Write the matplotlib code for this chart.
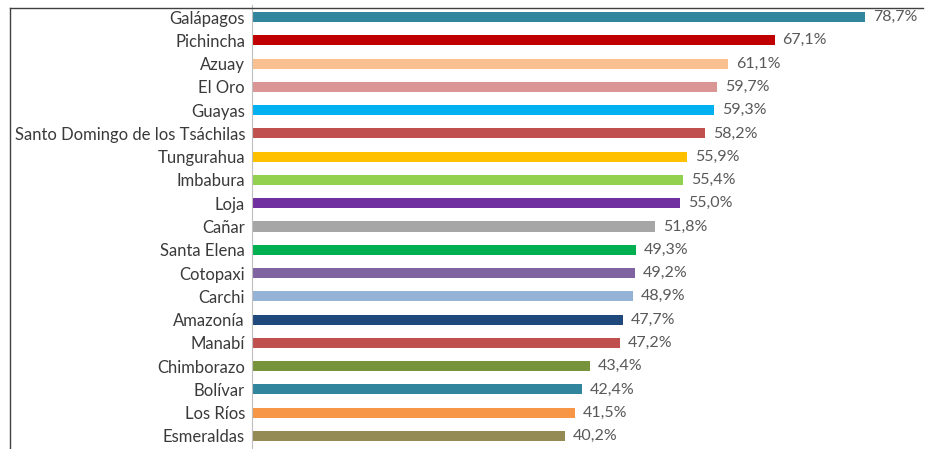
import matplotlib.pyplot as plt

provincias = ['Galápagos', 'Pichincha', 'Azuay', 'El Oro', 'Guayas',
              'Santo Domingo de los Tsáchilas', 'Tungurahua', 'Imbabura', 'Loja',
              'Cañar', 'Santa Elena', 'Cotopaxi', 'Carchi', 'Amazonía', 'Manabí',
              'Chimborazo', 'Bolívar', 'Los Ríos', 'Esmeraldas']
valores = [78.7, 67.1, 61.1, 59.7, 59.3, 58.2, 55.9, 55.4, 55.0, 51.8,
           49.3, 49.2, 48.9, 47.7, 47.2, 43.4, 42.4, 41.5, 40.2]
colores = ['#31859C', '#C00000', '#FAC090', '#D99694', '#00B0F0', '#C0504D',
           '#FFC000', '#92D050', '#7030A0', '#A6A6A6', '#00B050', '#8064A2',
           '#95B3D7', '#1F497D', '#C0504D', '#77933C', '#31859C', '#F79646',
           '#948A54']

plt.rcParams['font.family'] = ['Lato', 'DejaVu Sans']

fig = plt.figure(figsize=(9.26, 4.49), dpi=100)
ax = fig.add_axes([252 / 926, 1 - 447.6 / 449, 662 / 926, (447.6 - 5.4) / 449])

y = list(range(len(provincias)))
ax.barh(y, valores, height=0.43, color=colores)
for yi, v in zip(y, valores):
    ax.text(v + 1.0, yi, f'{v:.1f}%'.replace('.', ','), va='center', ha='left',
            fontsize=11.5, color='#595959')

ax.set_xlim(0, 85)
ax.set_ylim(len(provincias) - 0.5, -0.5)
ax.set_yticks(y)
ax.set_yticklabels(provincias, fontsize=12, color='#3A3A3A')
ax.tick_params(axis='y', length=0, pad=5)
ax.set_xticks([])
for s in ['top', 'right', 'bottom']:
    ax.spines[s].set_visible(False)
ax.spines['left'].set_color('#BFBFBF')

# marco de la imagen (solo arriba e izquierda)
fig.add_artist(plt.Line2D([10 / 926, 10 / 926], [0, 1 - 8 / 449], color='#404040', lw=1))
fig.add_artist(plt.Line2D([10 / 926, 923 / 926], [1 - 8 / 449, 1 - 8 / 449], color='#404040', lw=1))

fig.savefig('out.png', dpi=100)
